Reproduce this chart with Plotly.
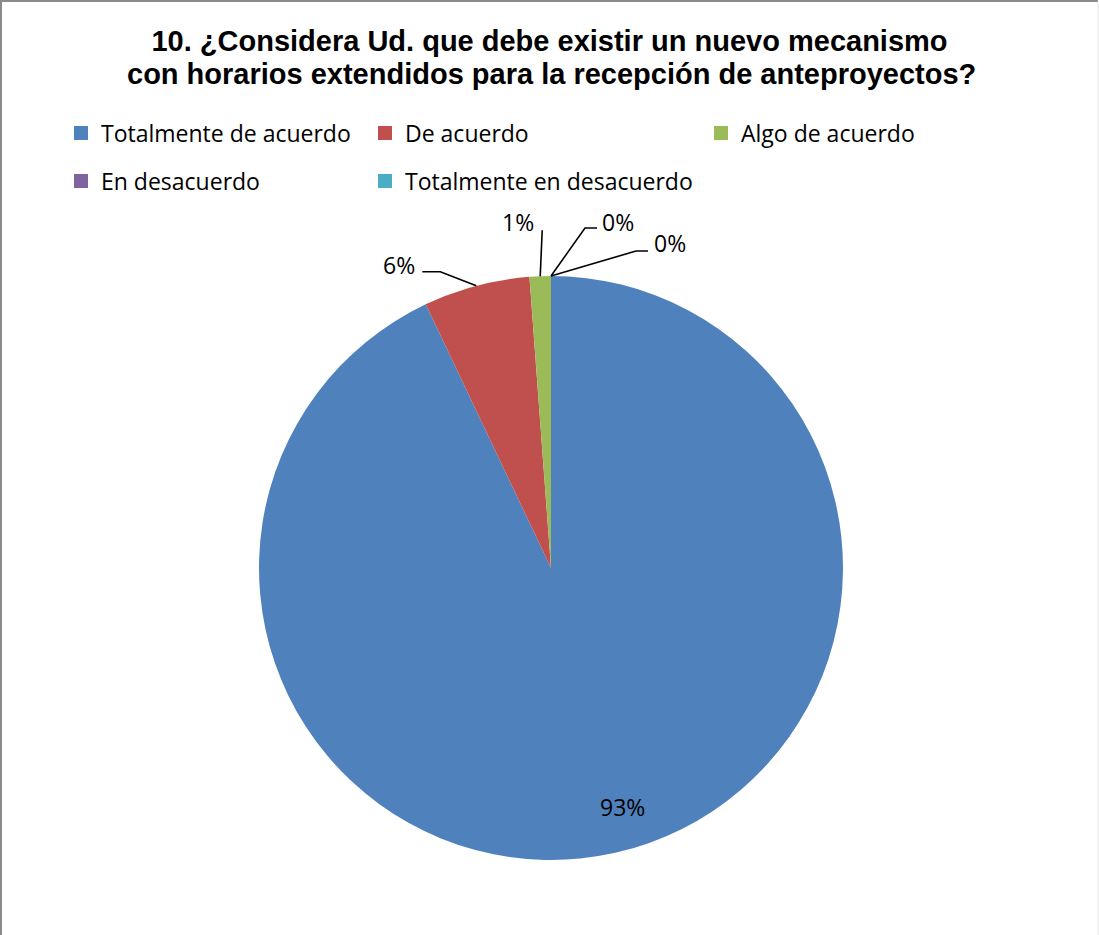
import math
import plotly.graph_objects as go

# ---- data ----
categories = ["Totalmente de acuerdo", "De acuerdo", "Algo de acuerdo",
              "En desacuerdo", "Totalmente en desacuerdo"]
counts = [79, 5, 1, 0, 0]
colors = ["#4F81BD", "#C0504D", "#9BBB59", "#8064A2", "#4BACC6"]
title_lines = ["10. ¿Considera Ud. que debe existir un nuevo mecanismo",
               "con horarios extendidos para la recepción de anteproyectos?"]

W, H = 1099, 935
CX, CY, R = 551, 568, 292          # pie centre / radius in pixels

def px(x):
    return x / W

def py(y):
    return 1 - y / H

total = sum(counts)
pcts = [c / total for c in counts]
pct_text = [f"{round(p * 100)}%" for p in pcts]

fig = go.Figure()
fig.add_trace(go.Pie(
    labels=categories, values=counts, sort=False, direction="clockwise",
    rotation=0, marker=dict(colors=colors, line=dict(width=0)),
    textinfo="none", hoverinfo="label+percent", showlegend=False,
    domain=dict(x=[px(CX - R), px(CX + R)], y=[py(CY + R), py(CY - R)]),
))

# legend entries: one legend per entry to reproduce the Excel layout
legend_ids = ["legend", "legend2", "legend3", "legend4", "legend5"]
for cat, col, lg in zip(categories, colors, legend_ids):
    fig.add_trace(go.Scatter(
        x=[None], y=[None], mode="markers", name=cat, legend=lg,
        marker=dict(symbol="square", size=14, color=col),
        hoverinfo="skip"))

# ---- slice labels ----
label_font = dict(family="Open Sans", size=23, color="black")
leaders = [
    None,
    ([(-36, -14), (-54, -14)], (-59, -21), "right"),
    ([(2, -46)], (-4, -54), "right"),
    ([(34, -48), (46, -48)], (49, -54), "left"),
    ([(85, -25), (97, -25)], (101, -33), "left"),
]
cum = 0.0
annotations = []
shapes = []
for i, p in enumerate(pcts):
    mid = (cum + p / 2) * 2 * math.pi
    cum += p
    sx, sy = math.sin(mid), -math.cos(mid)
    if leaders[i] is None:
        tx, ty = CX + 0.84 * R * sx + 18, CY + 0.84 * R * sy
        annotations.append(dict(x=px(tx), y=py(ty), xref="paper", yref="paper",
                                text=pct_text[i], showarrow=False, xanchor="center",
                                yanchor="middle", font=label_font))
        continue
    tipx, tipy = CX + R * sx, CY + R * sy
    pts, (ox, oy), anchor = leaders[i]
    path = f"M {px(tipx)},{py(tipy)}"
    for dx, dy in pts:
        path += f" L {px(tipx + dx)},{py(tipy + dy)}"
    shapes.append(dict(type="path", path=path, xref="paper", yref="paper",
                       line=dict(color="black", width=1.6)))
    annotations.append(dict(x=px(tipx + ox), y=py(tipy + oy), xref="paper", yref="paper",
                            text=pct_text[i], showarrow=False, xanchor=anchor,
                            yanchor="middle", font=label_font))

# second title line
title_font = dict(family="Liberation Sans", size=29, color="black", weight="bold")
annotations.append(dict(x=px(551), y=py(74), xref="paper", yref="paper",
                        text=title_lines[1], showarrow=False, xanchor="center",
                        yanchor="middle", font=title_font))

# chart border
shapes.append(dict(type="path", xref="paper", yref="paper",
                   path=f"M {px(1)},{py(H + 5)} L {px(1)},{py(1)} L {px(1098)},{py(1)}",
                   line=dict(color="#8A8A8A", width=2)))
shapes.append(dict(type="line", xref="paper", yref="paper",
                   x0=px(1098), x1=px(1098), y0=py(1), y1=py(H + 5),
                   line=dict(color="#E6E6E6", width=1)))

leg_common = dict(orientation="h", xref="paper", yref="paper", xanchor="left",
                  yanchor="middle", font=dict(family="Open Sans", size=23, color="black"),
                  bgcolor="rgba(0,0,0,0)", itemclick=False, itemdoubleclick=False)

fig.update_layout(
    width=W, height=H,
    margin=dict(l=0, r=0, t=0, b=0),
    paper_bgcolor="white", plot_bgcolor="white",
    title=dict(text=title_lines[0], x=0.5, xanchor="center", y=py(41), yanchor="middle",
               font=title_font),
    xaxis=dict(visible=False), yaxis=dict(visible=False),
    legend=dict(x=px(61), y=py(133), **leg_common),
    legend2=dict(x=px(365), y=py(133), **leg_common),
    legend3=dict(x=px(701), y=py(133), **leg_common),
    legend4=dict(x=px(61), y=py(181), **leg_common),
    legend5=dict(x=px(365), y=py(181), **leg_common),
    annotations=annotations,
    shapes=shapes,
)

fig.write_html("out.html", config={"displayModeBar": False},
               post_script="document.body.style.margin='0px';")
